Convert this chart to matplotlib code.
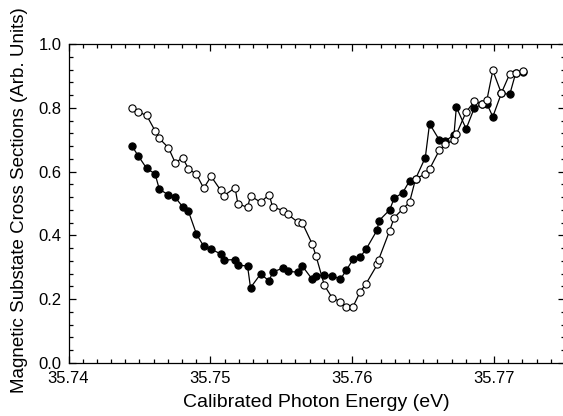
import numpy as np
import matplotlib
matplotlib.use('Agg')
import matplotlib.pyplot as plt
from matplotlib.ticker import MultipleLocator

# photon energies (eV), shared by both scans
energy = [35.74446, 35.74492, 35.74551, 35.74610, 35.74640, 35.74704, 35.74753,
          35.74804, 35.74845, 35.74902, 35.74953, 35.75005, 35.75072, 35.75093,
          35.75174, 35.75194, 35.75262, 35.75283, 35.75354, 35.75415, 35.75438,
          35.75514, 35.75546, 35.75615, 35.75648, 35.75717, 35.75745, 35.75804,
          35.75858, 35.75916, 35.75958, 35.76006, 35.76057, 35.76098, 35.76177,
          35.76186, 35.76264, 35.76295, 35.76356, 35.76404, 35.76447, 35.76515,
          35.76545, 35.76614, 35.76656, 35.76717, 35.76734, 35.76803, 35.76861,
          35.76917, 35.76949, 35.76991, 35.77051, 35.77111, 35.77153, 35.77201]

# open circles
sigma_open = [0.800, 0.787, 0.776, 0.728, 0.704, 0.675, 0.627, 0.644, 0.609, 0.591,
              0.548, 0.585, 0.542, 0.524, 0.549, 0.499, 0.488, 0.524, 0.504, 0.528,
              0.489, 0.478, 0.466, 0.442, 0.439, 0.374, 0.335, 0.243, 0.205, 0.192,
              0.175, 0.177, 0.224, 0.249, 0.309, 0.324, 0.415, 0.455, 0.483, 0.504,
              0.578, 0.592, 0.608, 0.667, 0.686, 0.698, 0.717, 0.787, 0.820, 0.813,
              0.824, 0.917, 0.846, 0.907, 0.910, 0.916]

# filled circles
sigma_filled = [0.681, 0.649, 0.610, 0.593, 0.545, 0.527, 0.519, 0.490, 0.476, 0.404,
                0.366, 0.357, 0.342, 0.323, 0.324, 0.307, 0.304, 0.236, 0.279, 0.257,
                0.285, 0.298, 0.287, 0.285, 0.304, 0.263, 0.273, 0.276, 0.274, 0.262,
                0.291, 0.325, 0.333, 0.357, 0.418, 0.445, 0.480, 0.516, 0.534, 0.571,
                0.578, 0.644, 0.750, 0.699, 0.696, 0.715, 0.802, 0.734, 0.800, 0.811,
                0.813, 0.772, 0.845, 0.843, 0.910, 0.913]

xticks = [35.74, 35.75, 35.76, 35.77]
yticks = [0.0, 0.2, 0.4, 0.6, 0.8, 1.0]

plt.rcParams['font.family'] = ['Liberation Sans', 'DejaVu Sans']

fig = plt.figure(figsize=(5.63, 4.16), dpi=100)
ax = fig.add_axes([0.1217, 0.1274, 0.8819, 0.7668])

ax.plot(energy, sigma_filled, '-o', color='black', lw=0.9, ms=5.2,
        mfc='black', mec='black', mew=0.8, zorder=2)
ax.plot(energy, sigma_open, '-o', color='black', lw=0.9, ms=5.2,
        mfc='white', mec='black', mew=0.8, zorder=3)

ax.set_xlim(35.74, 35.775)
ax.set_ylim(0, 1.0)
ax.set_xticks(xticks)
ax.set_xticklabels(['%.2f' % t for t in xticks])
ax.set_yticks(yticks)
ax.set_yticklabels(['%.1f' % t for t in yticks])
ax.xaxis.set_minor_locator(MultipleLocator(0.001))
ax.yaxis.set_minor_locator(MultipleLocator(0.04))
ax.tick_params(which='both', direction='in', top=True, right=True, width=0.9,
               labelsize=12)
ax.tick_params(axis='x', pad=5.5)
ax.tick_params(axis='y', pad=5)
ax.tick_params(which='major', length=5)
ax.tick_params(which='minor', length=3)
for s in ax.spines.values():
    s.set_linewidth(0.9)

ax.set_xlabel('Calibrated Photon Energy (eV)', fontsize=14, labelpad=6)
ax.set_ylabel('Magnetic Substate Cross Sections (Arb. Units)', fontsize=13.5)
ax.yaxis.set_label_coords(-0.082, 0.51)

fig.savefig('out.png', dpi=100)
plt.close()
